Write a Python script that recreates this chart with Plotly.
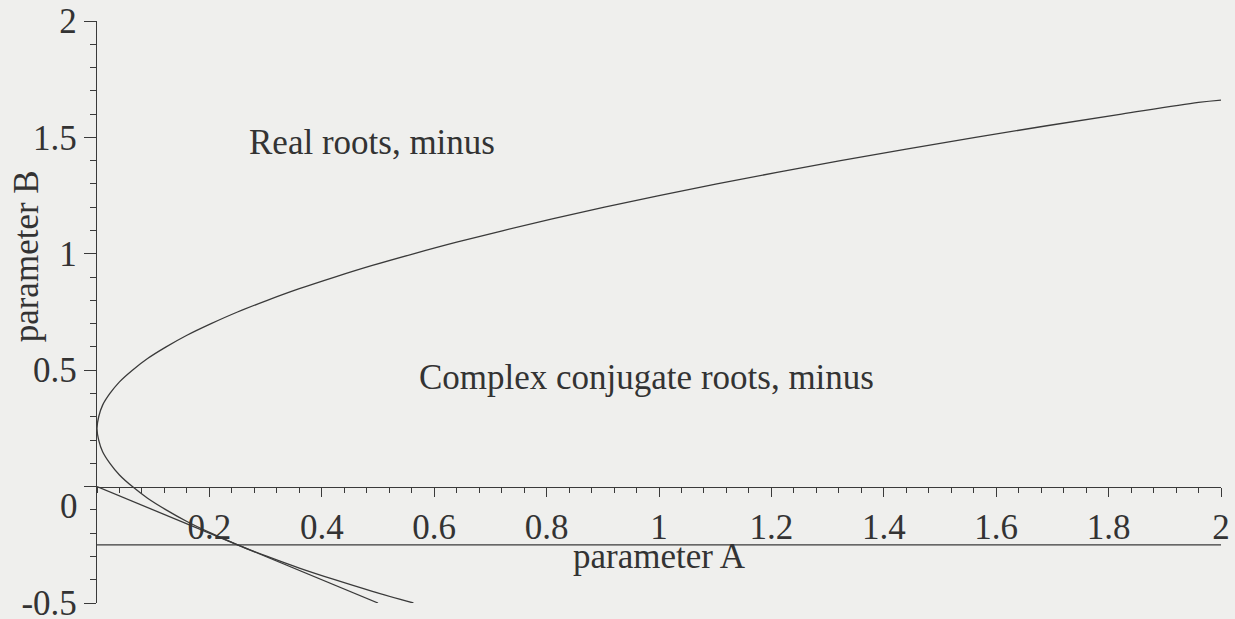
import plotly.graph_objects as go

# Boundary curve in the (A, B) plane, traced from the lower end up to the right edge
boundary_A = [0.563, 0.490, 0.423, 0.360, 0.303, 0.250, 0.203, 0.160, 0.123, 0.090, 0.063,
              0.040, 0.023, 0.010, 0.003, 0.0,
              0.003, 0.010, 0.023, 0.040, 0.063, 0.090, 0.123, 0.160, 0.203, 0.250,
              0.303, 0.360, 0.423, 0.490, 0.563, 0.640, 0.723, 0.810, 0.903, 1.000,
              1.103, 1.210, 1.323, 1.440, 1.563, 1.690, 1.823, 1.960, 2.000]
boundary_B = [-0.50, -0.45, -0.40, -0.35, -0.30, -0.25, -0.20, -0.15, -0.10, -0.05, 0.00,
              0.05, 0.10, 0.15, 0.20, 0.25,
              0.30, 0.35, 0.40, 0.45, 0.50, 0.55, 0.60, 0.65, 0.70, 0.75,
              0.80, 0.85, 0.90, 0.95, 1.00, 1.05, 1.10, 1.15, 1.20, 1.25,
              1.30, 1.35, 1.40, 1.45, 1.50, 1.55, 1.60, 1.65, 1.66]

# Straight line through the origin, tangent to the boundary
tangent_A = [0.0, 0.5]
tangent_B = [0.0, -0.5]

# Horizontal line across the full A range
level_A = [0.0, 2.0]
level_B = [-0.25, -0.25]

y_tick_vals = [-0.5, 0, 0.5, 1, 1.5, 2]
y_tick_text = ["-0.5", "", "0.5", "1", "1.5", "2"]
x_tick_vals = [0.2, 0.4, 0.6, 0.8, 1.0, 1.2, 1.4, 1.6, 1.8, 2.0]
x_tick_text = ["0.2", "0.4", "0.6", "0.8", "1", "1.2", "1.4", "1.6", "1.8", "2"]

INK = "#333333"
LINE = "#3a3a3a"
BG = "#efefed"
FONT = "Liberation Serif"
FS = 35

fig = go.Figure()
line_style = dict(color=LINE, width=1.3)
fig.add_trace(go.Scatter(x=boundary_A, y=boundary_B, mode="lines",
                         line=dict(shape="spline", smoothing=1.0, **line_style),
                         hoverinfo="skip"))
fig.add_trace(go.Scatter(x=tangent_A, y=tangent_B, mode="lines", line=line_style,
                         hoverinfo="skip"))
fig.add_trace(go.Scatter(x=level_A, y=level_B, mode="lines", line=line_style,
                         hoverinfo="skip"))

fig.update_layout(
    template="none",
    width=1235, height=619,
    margin=dict(l=97, r=14, t=21, b=16, autoexpand=False),
    paper_bgcolor=BG, plot_bgcolor=BG,
    showlegend=False,
    font=dict(family=FONT, size=FS, color=INK),
    xaxis=dict(
        range=[0, 2], anchor="free", position=0.2, automargin=False,
        showline=True, linecolor=LINE, linewidth=1.3,
        showgrid=False, zeroline=False,
        tickmode="array", tickvals=x_tick_vals, ticktext=x_tick_text,
        ticks="outside", ticklen=9, tickwidth=1.2, tickcolor=LINE,
        ticklabeloverflow="allow",
        tickfont=dict(family=FONT, size=FS, color=INK),
        minor=dict(tickmode="linear", tick0=0, dtick=0.04, ticks="outside",
                   ticklen=5, tickwidth=1.1, tickcolor=LINE, showgrid=False),
    ),
    yaxis=dict(
        range=[-0.5, 2], automargin=False,
        showline=True, linecolor=LINE, linewidth=1.3,
        showgrid=False, zeroline=False,
        tickmode="array", tickvals=y_tick_vals, ticktext=y_tick_text,
        ticks="outside", ticklen=12, tickwidth=1.2, tickcolor=LINE,
        ticklabeloverflow="allow",
        tickfont=dict(family=FONT, size=FS, color=INK),
        minor=dict(tickmode="linear", tick0=0, dtick=0.1, ticks="outside",
                   ticklen=6, tickwidth=1.1, tickcolor=LINE, showgrid=False),
    ),
)

# Region labels, axis titles and the shifted zero label on the B axis
fig.add_annotation(x=0.49, y=1.478, text="Real roots, minus", showarrow=False,
                   font=dict(family=FONT, size=FS, color=INK))
fig.add_annotation(x=0.977, y=0.467, text="Complex conjugate roots, minus", showarrow=False,
                   font=dict(family=FONT, size=FS, color=INK))
fig.add_annotation(x=1.0, y=-0.3, text="parameter A", showarrow=False,
                   font=dict(family=FONT, size=FS, color=INK))
fig.add_annotation(xref="paper", x=-0.063, xanchor="center", y=0.99, yanchor="middle",
                   text="parameter B", showarrow=False,
                   textangle=-90, font=dict(family=FONT, size=FS, color=INK))
fig.add_annotation(xref="paper", x=-0.015, y=-0.086, xanchor="right", text="0",
                   showarrow=False, font=dict(family=FONT, size=FS, color=INK))

fig.write_html("out.html")
